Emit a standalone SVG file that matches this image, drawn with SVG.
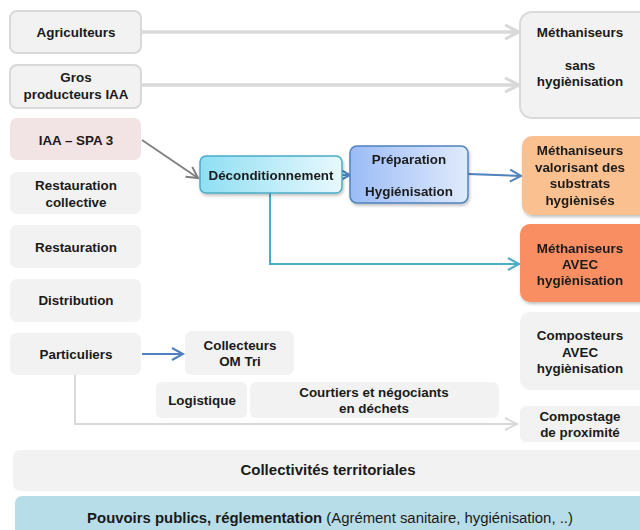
<svg xmlns="http://www.w3.org/2000/svg" width="640" height="530" viewBox="0 0 640 530">
  <defs>
    <linearGradient id="gradDecond" x1="0" y1="0" x2="1" y2="0">
      <stop offset="0" stop-color="#8fdff4"/>
      <stop offset="1" stop-color="#e8f8fd"/>
    </linearGradient>
    <linearGradient id="gradPrep" x1="0" y1="0" x2="1" y2="0">
      <stop offset="0" stop-color="#9bbcf7"/>
      <stop offset="1" stop-color="#e0eafc"/>
    </linearGradient>
    <filter id="shadow" x="-10%" y="-10%" width="130%" height="140%">
      <feDropShadow dx="1" dy="2" stdDeviation="1.5" flood-color="#000" flood-opacity="0.25"/>
    </filter>
    <marker id="arrGrey" markerUnits="userSpaceOnUse" markerWidth="18" markerHeight="18" refX="15" refY="8" orient="auto">
      <path d="M1,1 L15,8 L1,15" fill="none" stroke="#d9d9d9" stroke-width="3"/>
    </marker>
    <marker id="arrGreyThin" markerUnits="userSpaceOnUse" markerWidth="16" markerHeight="16" refX="13" refY="7" orient="auto">
      <path d="M1,1 L13,7 L1,13" fill="none" stroke="#d9d9d9" stroke-width="2"/>
    </marker>
    <marker id="arrDark" markerUnits="userSpaceOnUse" markerWidth="16" markerHeight="16" refX="12" refY="7" orient="auto">
      <path d="M1,1 L12,7 L1,13" fill="none" stroke="#7f7f7f" stroke-width="2"/>
    </marker>
    <marker id="arrBlue" markerUnits="userSpaceOnUse" markerWidth="16" markerHeight="16" refX="12" refY="7" orient="auto">
      <path d="M1,1 L12,7 L1,13" fill="none" stroke="#4f81bd" stroke-width="2"/>
    </marker>
    <marker id="arrTeal" markerUnits="userSpaceOnUse" markerWidth="16" markerHeight="16" refX="12" refY="7" orient="auto">
      <path d="M1,1 L12,7 L1,13" fill="none" stroke="#4bacc6" stroke-width="2"/>
    </marker>
  </defs>
  <style>
    text { font-family: "Liberation Sans", Arial, sans-serif; font-weight: bold; font-size: 13.4px; fill: #1a1a1a; text-anchor: middle; }
    .plain { fill: #f2f2f2; }
    .framed { fill: #f2f2f2; stroke: #d9d9d9; stroke-width: 2; }
    .conn { fill: none; }
  </style>

  <!-- connectors -->
  <g id="connectors" class="conn">
    <line x1="142" y1="32" x2="519" y2="32" stroke="#d9d9d9" stroke-width="3.5" marker-end="url(#arrGrey)"/>
    <line x1="142" y1="85" x2="519" y2="85" stroke="#d9d9d9" stroke-width="3.5" marker-end="url(#arrGrey)"/>
    <line x1="142" y1="140" x2="198" y2="178" stroke="#7f7f7f" stroke-width="1.8" marker-end="url(#arrDark)"/>
    <line x1="342" y1="175" x2="350" y2="175" stroke="#4f81bd" stroke-width="2" marker-end="url(#arrBlue)"/>
    <line x1="468" y1="174" x2="521" y2="176" stroke="#4f81bd" stroke-width="2" marker-end="url(#arrBlue)"/>
    <polyline points="270,193 270,264 519,264" stroke="#4bacc6" stroke-width="2" marker-end="url(#arrTeal)"/>
    <line x1="142" y1="354" x2="183" y2="354" stroke="#4f81bd" stroke-width="2" marker-end="url(#arrBlue)"/>
    <polyline points="75,375 75,424 517,424" stroke="#d9d9d9" stroke-width="2" marker-end="url(#arrGreyThin)"/>
  </g>

  <!-- sources -->
  <g id="agriculteurs">
    <rect class="framed" x="10" y="11" width="131" height="42" rx="7"/>
    <text x="76" y="37">Agriculteurs</text>
  </g>
  <g id="gros-producteurs">
    <rect class="framed" x="10" y="65" width="131" height="43" rx="7"/>
    <text x="76" y="82">Gros</text>
    <text x="76" y="99">producteurs IAA</text>
  </g>
  <g id="iaa-spa3">
    <rect x="10" y="118" width="131" height="42" rx="7" fill="#f2e4e4"/>
    <text x="76" y="145">IAA – SPA 3</text>
  </g>
  <g id="restauration-collective">
    <rect class="plain" x="10" y="172" width="131" height="42" rx="7"/>
    <text x="76" y="190">Restauration</text>
    <text x="76" y="207">collective</text>
  </g>
  <g id="restauration">
    <rect class="plain" x="10" y="225" width="131" height="43" rx="7"/>
    <text x="76" y="252">Restauration</text>
  </g>
  <g id="distribution">
    <rect class="plain" x="10" y="279" width="131" height="43" rx="7"/>
    <text x="76" y="305">Distribution</text>
  </g>
  <g id="particuliers">
    <rect class="plain" x="10" y="333" width="131" height="42" rx="7"/>
    <text x="76" y="359">Particuliers</text>
  </g>

  <!-- intermediaries -->
  <g id="collecteurs">
    <rect class="plain" x="185" y="331" width="109" height="44" rx="7"/>
    <text x="240" y="350">Collecteurs</text>
    <text x="240" y="366">OM Tri</text>
  </g>
  <g id="logistique">
    <rect class="plain" x="156" y="382" width="91" height="36" rx="6"/>
    <text x="202" y="405">Logistique</text>
  </g>
  <g id="courtiers">
    <rect class="plain" x="250" y="382" width="249" height="36" rx="6"/>
    <text x="374" y="397">Courtiers et négociants</text>
    <text x="374" y="413">en déchets</text>
  </g>

  <!-- processing -->
  <g id="deconditionnement" filter="url(#shadow)">
    <rect x="200" y="156" width="142" height="37" rx="6" fill="url(#gradDecond)" stroke="#4bacc6" stroke-width="1.5"/>
    <text x="271" y="180">Déconditionnement</text>
  </g>
  <g id="preparation" filter="url(#shadow)">
    <rect x="350" y="146" width="118" height="57" rx="7" fill="url(#gradPrep)" stroke="#4f81bd" stroke-width="1.5"/>
    <text x="409" y="164">Préparation</text>
    <text x="409" y="196">Hygiénisation</text>
  </g>

  <!-- destinations -->
  <g id="methaniseurs-sans">
    <rect class="framed" x="520" y="12" width="130" height="106" rx="12"/>
    <text x="580" y="37">Méthaniseurs</text>
    <text x="580" y="70">sans</text>
    <text x="580" y="86">hygiènisation</text>
  </g>
  <g id="methaniseurs-valorisant" filter="url(#shadow)">
    <rect x="522" y="136" width="128" height="79" rx="10" fill="#fac090"/>
    <text x="580" y="155">Méthaniseurs</text>
    <text x="580" y="172">valorisant des</text>
    <text x="580" y="188">substrats</text>
    <text x="580" y="205">hygiènisés</text>
  </g>
  <g id="methaniseurs-avec" filter="url(#shadow)">
    <rect x="520" y="224" width="130" height="78" rx="10" fill="#f98e62"/>
    <text x="580" y="253">Méthaniseurs</text>
    <text x="580" y="269">AVEC</text>
    <text x="580" y="285">hygiènisation</text>
  </g>
  <g id="composteurs-avec">
    <rect class="plain" x="520" y="312" width="130" height="78" rx="10"/>
    <text x="580" y="340">Composteurs</text>
    <text x="580" y="357">AVEC</text>
    <text x="580" y="373">hygiènisation</text>
  </g>
  <g id="compostage-proximite">
    <rect class="plain" x="520" y="406" width="130" height="36" rx="6"/>
    <text x="580" y="421">Compostage</text>
    <text x="580" y="437">de proximité</text>
  </g>

  <!-- framework bands -->
  <g id="collectivites">
    <rect class="plain" x="13" y="450" width="640" height="41" rx="7"/>
    <text x="328" y="475" style="font-size:15px">Collectivités territoriales</text>
  </g>
  <g id="pouvoirs-publics">
    <rect x="15" y="496" width="640" height="45" rx="7" fill="#b7dde8"/>
    <text x="330" y="523" style="font-size:14.9px">Pouvoirs publics, réglementation<tspan style="font-weight:normal"> (Agrément sanitaire, hygiénisation, ..)</tspan></text>
  </g>
</svg>
